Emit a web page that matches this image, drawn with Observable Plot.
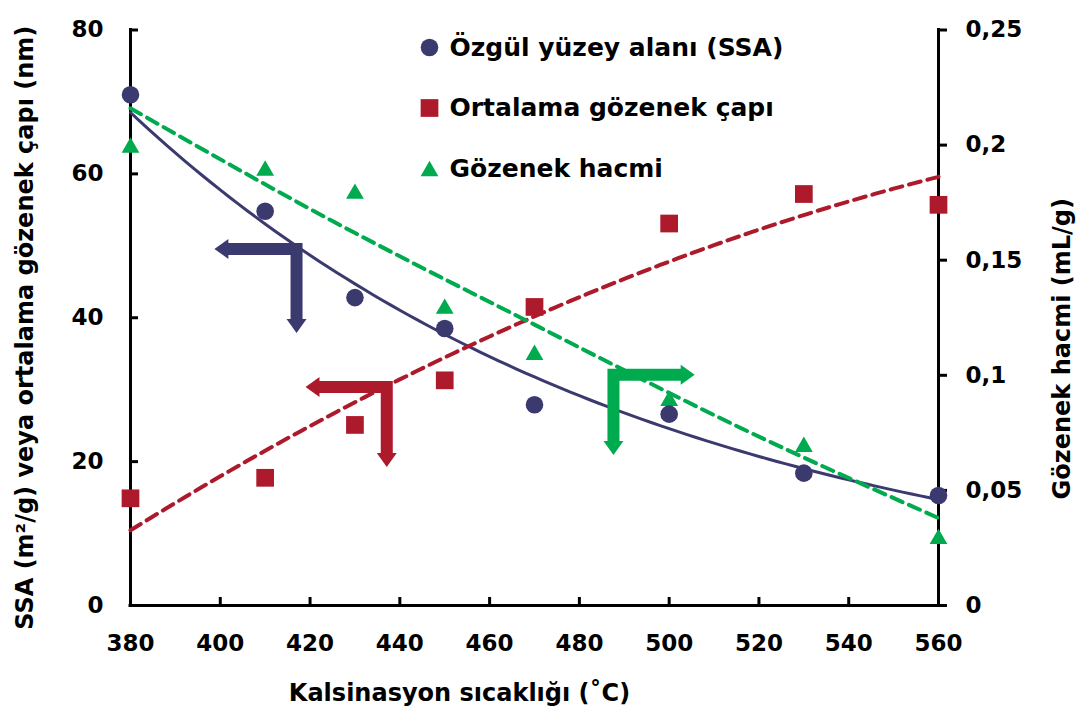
<!DOCTYPE html>
<html>
<head>
<meta charset="utf-8">
<script src="https://cdn.jsdelivr.net/npm/d3@7"></script>
<script src="https://cdn.jsdelivr.net/npm/@observablehq/plot@0.6"></script>
<style>
  body { margin: 0; background: #fff; }
</style>
</head>
<body>
<div id="chart"></div>
<script>
// Calcination temperature (°C) and measured properties
const temperatures = [380, 410, 430, 450, 470, 500, 530, 560];
const ssa = [71.0, 54.8, 42.8, 38.5, 27.9, 26.6, 18.4, 15.3];            // m²/g
const poreDiameter = [14.9, 17.75, 25.1, 31.3, 41.5, 53.1, 57.2, 55.7];   // nm
const poreVolume = [0.20, 0.19, 0.18, 0.13, 0.11, 0.09, 0.07, 0.03];      // mL/g

// Pore-volume trend line
const volumeTrendTemps = [380, 425, 470, 515, 560];
const volumeTrend = [0.216, 0.167, 0.122, 0.078, 0.038];

// Axis ticks
const xTicks = [380, 400, 420, 440, 460, 480, 500, 520, 540, 560];
const leftTicks = [0, 20, 40, 60, 80];
const rightTicks = [0, 0.05, 0.1, 0.15, 0.2, 0.25];

const seriesNames = ["Özgül yüzey alanı (SSA)", "Ortalama gözenek çapı", "Gözenek hacmi"];

// Direction arrows pointing each series to its axis
const arrowSeries = ["ssa", "diameter", "volume"];
const arrowCornerT = [417.1, 437.2, 487.7];
const arrowCornerV = [49.5, 30.3, 32.0];
const arrowTipT = [398.8, 419.1, 505.8];
const arrowTipV = [37.8, 19.2, 20.85];

const NAVY = "#3b3a6e", RED = "#ad1a2c", GREEN = "#00aa4f";
const colors = {ssa: NAVY, diameter: RED, volume: GREEN};

// Right axis (mL/g) is drawn on the left axis scale
const VOLUME_TO_LEFT = 80 / 0.25;

// Least-squares helpers for the trend lines
function linreg(xs, ys) {
  const mx = d3.mean(xs), my = d3.mean(ys);
  const sxy = d3.sum(xs, (x, i) => (x - mx) * (ys[i] - my));
  const sxx = d3.sum(xs, x => (x - mx) ** 2);
  const b = sxy / sxx;
  return [my - b * mx, b];
}
function expTrend(xs, ys) {
  const [a, b] = linreg(xs, ys.map(Math.log));
  return x => Math.exp(a + b * x);
}
function det3(m) {
  return m[0][0] * (m[1][1] * m[2][2] - m[1][2] * m[2][1])
       - m[0][1] * (m[1][0] * m[2][2] - m[1][2] * m[2][0])
       + m[0][2] * (m[1][0] * m[2][1] - m[1][1] * m[2][0]);
}
function quadTrend(xs, ys) {
  const mx = d3.mean(xs);
  const t = xs.map(x => x - mx);
  const S = k => d3.sum(t, v => v ** k);
  const Sy = k => d3.sum(t, (v, i) => v ** k * ys[i]);
  const A = [[xs.length, S(1), S(2)], [S(1), S(2), S(3)], [S(2), S(3), S(4)]];
  const B = [Sy(0), Sy(1), Sy(2)];
  const D = det3(A);
  const coef = [0, 1, 2].map(j => det3(A.map((row, r) => row.map((v, c) => (c === j ? B[r] : v)))) / D);
  return x => coef[0] + coef[1] * (x - mx) + coef[2] * (x - mx) ** 2;
}

const ssaFit = expTrend(temperatures, ssa);
const diameterFit = quadTrend(temperatures, poreDiameter);
const trendX = d3.range(380, 560.001, 2);

// Thick L-shaped arrows with filled heads
const HEAD_LEN = 14, HEAD_W = 20, SHAFT_W = 12;
function drawArrows(index, scales) {
  const g = d3.create("svg:g").attr("aria-label", "arrows");
  arrowSeries.forEach((s, i) => {
    const color = colors[s];
    const cx = scales.x(arrowCornerT[i]), cy = scales.y(arrowCornerV[i]);
    const hx = scales.x(arrowTipT[i]), vy = scales.y(arrowTipV[i]);
    const sx = Math.sign(hx - cx), sy = Math.sign(vy - cy);
    g.append("path")
      .attr("fill", "none").attr("stroke", color)
      .attr("stroke-width", SHAFT_W).attr("stroke-linejoin", "miter")
      .attr("d", `M${hx - sx * (HEAD_LEN - 1)},${cy}L${cx},${cy}L${cx},${vy - sy * (HEAD_LEN - 1)}`);
    g.append("path").attr("fill", color)
      .attr("d", `M${hx},${cy}L${hx - sx * HEAD_LEN},${cy - HEAD_W / 2}L${hx - sx * HEAD_LEN},${cy + HEAD_W / 2}Z`);
    g.append("path").attr("fill", color)
      .attr("d", `M${cx},${vy}L${cx - HEAD_W / 2},${vy - sy * HEAD_LEN}L${cx + HEAD_W / 2},${vy - sy * HEAD_LEN}Z`);
  });
  return g.node();
}

const markers = [
  {symbol: "circle", r: 8.8, fill: NAVY, dy: 0},
  {symbol: "square", r: 10, fill: RED, dy: 0},
  {symbol: "triangle", r: 6.6, fill: GREEN, dy: 2.5}
];

const legendMarks = seriesNames.flatMap((name, i) => [
  Plot.dot([name], {frameAnchor: "top-left", dx: 299, dy: 17.5 + 60.5 * i + markers[i].dy,
    symbol: markers[i].symbol, r: markers[i].r, fill: markers[i].fill}),
  Plot.text([name], {frameAnchor: "top-left", dx: 319, dy: 17.5 + 60.5 * i,
    textAnchor: "start", lineAnchor: "middle", fontSize: 25})
]);

const noLabel = () => "";
const fmtComma = v => String(+(v / VOLUME_TO_LEFT).toFixed(2)).replace(".", ",");
const rightTickPos = rightTicks.map(v => v * VOLUME_TO_LEFT);

const chart = Plot.plot({
  width: 1080,
  height: 715,
  marginLeft: 130,
  marginRight: 142,
  marginTop: 29.5,
  marginBottom: 110,
  style: {fontFamily: '"DejaVu Sans", sans-serif', fontWeight: "bold", background: "#fff", color: "#000", overflow: "visible"},
  x: {domain: [380, 560]},
  y: {domain: [0, 80]},
  marks: [
    // axis lines
    Plot.ruleX([380, 560], {strokeWidth: 3, strokeLinecap: "square"}),
    Plot.ruleY([0], {strokeWidth: 3, strokeLinecap: "square"}),

    // left axis: inward ticks, then labels
    Plot.axisY(leftTicks, {anchor: "left", tickSize: -8, strokeWidth: 3, tickFormat: noLabel, label: null}),
    Plot.axisY(leftTicks, {anchor: "left", tickSize: 0, tickPadding: 27, fontSize: 23, label: null}),
    // right axis: outward ticks, comma-decimal labels
    Plot.axisY(rightTickPos, {anchor: "right", tickSize: 8, strokeWidth: 3, tickFormat: noLabel, label: null}),
    Plot.axisY(rightTickPos, {anchor: "right", tickSize: 0, tickPadding: 27, fontSize: 23, tickFormat: fmtComma, label: null}),
    // bottom axis: inward ticks, then labels
    Plot.axisX(xTicks, {anchor: "bottom", tickSize: -8, strokeWidth: 3, tickFormat: noLabel, label: null}),
    Plot.axisX(xTicks, {anchor: "bottom", tickSize: 0, tickPadding: 29, fontSize: 23, label: null}),

    // axis titles
    Plot.text(["SSA (m²/g) veya ortalama gözenek çapı (nm)"], {frameAnchor: "left", rotate: -90,
      textAnchor: "middle", lineAnchor: "middle", dx: -105, dy: 10, fontSize: 24}),
    Plot.text(["Gözenek hacmi (mL/g)"], {frameAnchor: "right", rotate: -90,
      textAnchor: "middle", lineAnchor: "middle", dx: 124, dy: 31, fontSize: 24}),
    Plot.text(["Kalsinasyon sıcaklığı (˚C)"], {frameAnchor: "bottom",
      textAnchor: "middle", lineAnchor: "middle", dx: -75, dy: 88, fontSize: 24}),

    // trend lines
    Plot.line(trendX, {x: d => d, y: d => ssaFit(d), stroke: NAVY, strokeWidth: 3}),
    Plot.line(trendX, {x: d => d, y: d => diameterFit(d), stroke: RED, strokeWidth: 4, strokeDasharray: "12,7"}),
    Plot.line(volumeTrendTemps, {x: d => d, y: (d, i) => volumeTrend[i] * VOLUME_TO_LEFT, curve: "natural",
      stroke: GREEN, strokeWidth: 4, strokeDasharray: "12,7"}),

    drawArrows,

    // measured points
    Plot.dot(temperatures, {x: d => d, y: (d, i) => poreVolume[i] * VOLUME_TO_LEFT, symbol: "triangle", r: 6.6, fill: GREEN, dy: 2.5}),
    Plot.dot(temperatures, {x: d => d, y: (d, i) => poreDiameter[i], symbol: "square", r: 10, fill: RED}),
    Plot.dot(temperatures, {x: d => d, y: (d, i) => ssa[i], r: 8.8, fill: NAVY}),

    ...legendMarks
  ]
});

document.getElementById("chart").appendChild(chart);
</script>
</body>
</html>
